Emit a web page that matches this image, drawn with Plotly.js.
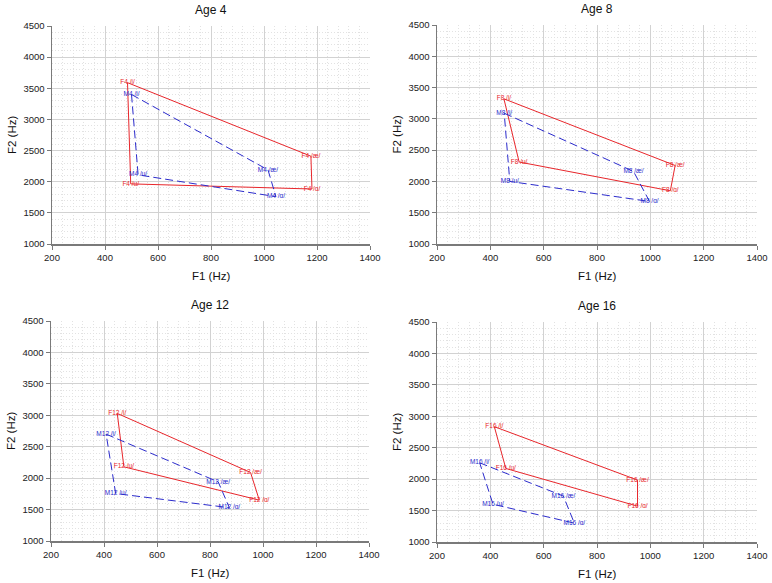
<!DOCTYPE html>
<html>
<head>
<meta charset="utf-8">
<script src="https://cdn.plot.ly/plotly-3.0.1.min.js"></script>
<style>html,body{margin:0;padding:0;background:#fff;}#chart{width:772px;height:583px;}</style>
</head>
<body>
<div id="chart"></div>
<script>
// Vowel order for every polygon: /i/, /æ/, /ɑ/, /u/
const vowels = ['/i/', '/æ/', '/ɑ/', '/u/'];
const ages = [4, 8, 12, 16];

// Female (red) and male (blue) formants
const f4_F1 = [485, 1177, 1181, 497];
const f4_F2 = [3590, 2410, 1883, 1965];
const m4_F1 = [500, 1015, 1045, 525];
const m4_F2 = [3400, 2190, 1760, 2110];

const f8_F1 = [451, 1093, 1075, 508];
const f8_F2 = [3320, 2255, 1850, 2310];
const m8_F1 = [452, 937, 997, 473];
const m8_F2 = [3090, 2160, 1680, 2000];

const f12_F1 = [450, 953, 986, 475];
const f12_F2 = [3030, 2090, 1650, 2180];
const m12_F1 = [408, 831, 873, 444];
const m12_F2 = [2700, 1940, 1530, 1755];

const f16_F1 = [415, 952, 952, 458];
const f16_F2 = [2835, 1985, 1570, 2170];
const m16_F1 = [360, 674, 715, 410];
const m16_F2 = [2260, 1730, 1300, 1600];

const xTicks = [200, 400, 600, 800, 1000, 1200, 1400];
const yTicks = [1000, 1500, 2000, 2500, 3000, 3500, 4000, 4500];

const femaleF1 = [f4_F1, f8_F1, f12_F1, f16_F1];
const femaleF2 = [f4_F2, f8_F2, f12_F2, f16_F2];
const maleF1 = [m4_F1, m8_F1, m12_F1, m16_F1];
const maleF2 = [m4_F2, m8_F2, m12_F2, m16_F2];

const RED = '#e8262b';
const BLUE = '#2b2bcc';
const FONT = 'Liberation Sans, Arial, sans-serif';

const W = 772, H = 583;
// pixel boxes of the four panels [x0, x1, yTop, yBottom]
const boxes = [
  [52, 370, 26, 244],
  [437, 757, 25, 244],
  [51, 369, 321, 541],
  [437, 757, 322, 542]
];

const close = a => a.concat([a[0]]);
const traces = [];
const layout = {
  width: W, height: H,
  margin: {l: 0, r: 0, t: 0, b: 0},
  paper_bgcolor: '#fff', plot_bgcolor: '#fff',
  showlegend: false,
  font: {family: FONT, color: '#111'},
  annotations: []
};

ages.forEach((age, k) => {
  const n = k + 1;
  const xa = n === 1 ? 'x' : 'x' + n;
  const ya = n === 1 ? 'y' : 'y' + n;
  const b = boxes[k];
  const axX = {
    domain: [b[0] / W, b[1] / W],
    range: [200, 1400],
    tickvals: xTicks,
    ticktext: xTicks.map(String),
    showgrid: true, gridcolor: '#d2d2d2', gridwidth: 1,
    minor: {dtick: 40, tick0: 200, showgrid: true, gridcolor: '#e2e2e2', griddash: '1px,2px', gridwidth: 1},
    showline: true, linecolor: '#7a7a7a', linewidth: 1.5,
    ticks: 'outside', ticklen: 4, tickcolor: '#7a7a7a',
    tickfont: {size: 9.5, color: '#222', family: FONT},
    zeroline: false, fixedrange: true,
    anchor: ya
  };
  const axY = {
    domain: [1 - b[3] / H, 1 - b[2] / H],
    range: [1000, 4500],
    tickvals: yTicks,
    ticktext: yTicks.map(String),
    showgrid: true, gridcolor: '#d2d2d2', gridwidth: 1,
    minor: {dtick: 100, tick0: 1000, showgrid: true, gridcolor: '#e2e2e2', griddash: '1px,2px', gridwidth: 1},
    showline: true, linecolor: '#7a7a7a', linewidth: 1.5,
    ticks: 'outside', ticklen: 4, tickcolor: '#7a7a7a',
    tickfont: {size: 9.5, color: '#222', family: FONT},
    zeroline: false, fixedrange: true,
    anchor: xa
  };
  layout[n === 1 ? 'xaxis' : 'xaxis' + n] = axX;
  layout[n === 1 ? 'yaxis' : 'yaxis' + n] = axY;

  const fLabels = vowels.map(v => 'F' + age + ' ' + v).concat(['']);
  const mLabels = vowels.map(v => 'M' + age + ' ' + v).concat(['']);

  traces.push({
    type: 'scatter', mode: 'lines+text',
    x: close(femaleF1[k]), y: close(femaleF2[k]),
    xaxis: xa, yaxis: ya,
    line: {color: RED, width: 1},
    text: fLabels, textposition: 'middle center',
    textfont: {size: 6.5, color: RED, family: FONT},
    cliponaxis: false, hoverinfo: 'skip'
  });
  traces.push({
    type: 'scatter', mode: 'lines+text',
    x: close(maleF1[k]), y: close(maleF2[k]),
    xaxis: xa, yaxis: ya,
    line: {color: BLUE, width: 1, dash: '8px,4px'},
    text: mLabels, textposition: 'middle center',
    textfont: {size: 6.5, color: BLUE, family: FONT},
    cliponaxis: false, hoverinfo: 'skip'
  });

  const cx = (b[0] + b[1]) / 2 / W;
  // Panel title
  layout.annotations.push({
    xref: 'paper', yref: 'paper', x: cx, y: 1 - (b[2] - 16) / H,
    text: 'Age ' + age, showarrow: false, xanchor: 'center', yanchor: 'middle',
    font: {size: 12, color: '#111', family: FONT}
  });
  // x axis title
  layout.annotations.push({
    xref: 'paper', yref: 'paper', x: cx, y: 1 - (b[3] + 32) / H,
    text: 'F1 (Hz)', showarrow: false, xanchor: 'center', yanchor: 'middle',
    font: {size: 11.5, color: '#111', family: FONT}
  });
  // y axis title
  layout.annotations.push({
    xref: 'paper', yref: 'paper', x: (b[0] - 40) / W, y: 1 - (b[2] + b[3]) / 2 / H,
    text: 'F2 (Hz)', showarrow: false, xanchor: 'center', yanchor: 'middle', textangle: -90,
    font: {size: 11.5, color: '#111', family: FONT}
  });
});

Plotly.newPlot('chart', traces, layout, {staticPlot: true, displayModeBar: false});
</script>
</body>
</html>
